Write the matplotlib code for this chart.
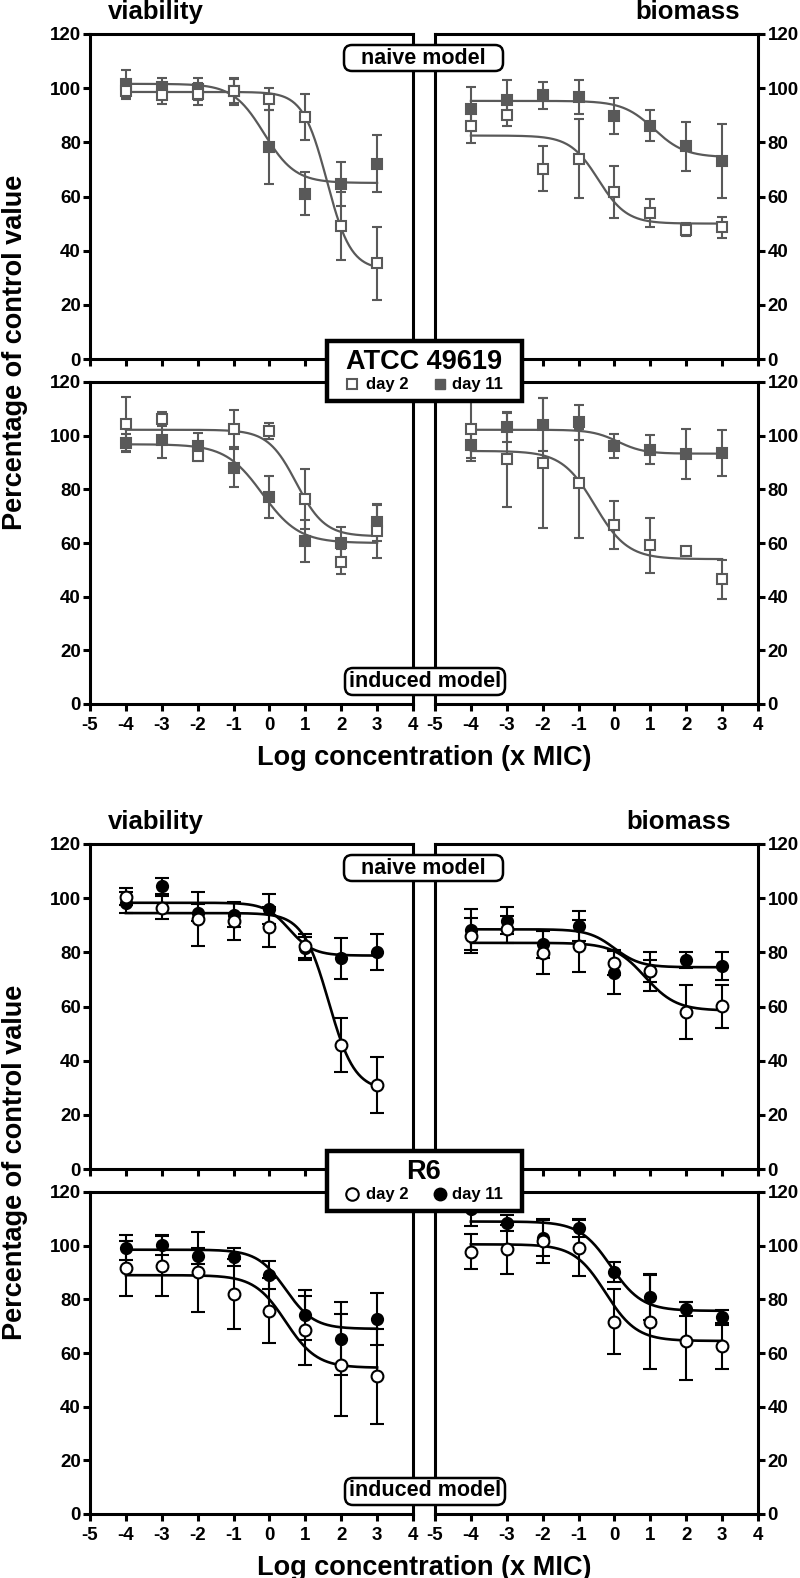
import numpy as np
import matplotlib.pyplot as plt
from matplotlib.patches import FancyBboxPatch, Rectangle

plt.rcParams['font.family'] = ['Liberation Sans', 'DejaVu Sans']
plt.rcParams['font.weight'] = 'bold'
plt.rcParams['axes.unicode_minus'] = False

# log concentration (x MIC)
conc = [-4, -3, -2, -1, 0, 1, 2, 3]

# ---- ATCC 49619 ----
atcc_nv_d2 = [99, 97.6, 97.8, 98.8, 96, 89.2, 49, 35.3]
atcc_nv_d2_sd = [3, 3.5, 4, 5, 4, 8.5, 12.6, 13.5]
atcc_nv_d11 = [101.7, 100.4, 99.7, 99, 78.4, 61, 64.6, 72.1]
atcc_nv_d11_sd = [5, 3.5, 4, 4.5, 13.7, 8, 8, 10.5]

atcc_nb_d2 = [86.2, 90.2, 70.3, 74, 61.7, 53.9, 47.8, 48.6]
atcc_nb_d2_sd = [6.4, 4.3, 8.2, 14.6, 9.7, 5, 2.5, 3.8]
atcc_nb_d11 = [92.3, 95.8, 97.4, 96.7, 89.6, 86.2, 78.5, 73]
atcc_nb_d11_sd = [8, 7.3, 5, 6.3, 6.7, 5.8, 8.9, 13.7]

atcc_iv_d2 = [104.4, 106.3, 92.5, 102.6, 101.6, 76.4, 53.1, 64.3]
atcc_iv_d2_sd = [10, 2.7, 1.8, 6.8, 3, 11.3, 4.7, 10]
atcc_iv_d11 = [97.3, 98.5, 96, 88, 77.1, 60.8, 60, 67.7]
atcc_iv_d11_sd = [3.5, 6.8, 5, 7, 7.9, 7.8, 6, 7]

atcc_ib_d2 = [102.6, 91.3, 89.8, 82.3, 66.8, 59.1, 57.2, 46.5]
atcc_ib_d2_sd = [11, 17.7, 24.3, 20.3, 8.9, 10.1, 1, 7.2]
atcc_ib_d11 = [96.4, 103.2, 104.1, 105, 96, 94.8, 93.2, 93.5]
atcc_ib_d11_sd = [6, 5.4, 10, 6.5, 4.5, 5.5, 9.4, 8.5]

# ---- R6 ----
r6_nv_d2 = [100.6, 96.5, 92.2, 91.6, 89.5, 82.3, 45.9, 30.9]
r6_nv_d2_sd = [3, 4.2, 10, 7, 7.4, 4.5, 10, 10.4]
r6_nv_d11 = [98.4, 104.6, 94.7, 93.8, 95.9, 81.5, 77.8, 80]
r6_nv_d11_sd = [4, 3, 3, 4.5, 5.6, 4.3, 7.5, 6.6]

r6_nb_d2 = [86.2, 88.5, 79.9, 82.3, 76.2, 73.1, 58, 60.1]
r6_nb_d2_sd = [6.6, 5, 8, 9.5, 4.7, 7.2, 10, 8]
r6_nb_d11 = [88.3, 91.6, 83, 89.8, 72.5, 73, 77.2, 75.1]
r6_nb_d11_sd = [7.6, 5, 5, 5.6, 8, 4, 3, 5.2]

r6_iv_d2 = [91.6, 92.5, 90.2, 82, 75.8, 68.4, 55.6, 51.3]
r6_iv_d2_sd = [10.3, 11.2, 14.8, 13, 12.1, 12.7, 19.1, 17.8]
r6_iv_d11 = [99.3, 100.2, 96.2, 95.9, 89.1, 74.2, 65.3, 72.7]
r6_iv_d11_sd = [4.8, 3.8, 3, 3.4, 5.3, 9.2, 13.6, 9.6]

r6_ib_d2 = [97.7, 98.6, 101.7, 99.3, 71.7, 71.7, 64.6, 62.5]
r6_ib_d2_sd = [6.5, 9, 8, 10.5, 12, 17.6, 14.5, 8.6]
r6_ib_d11 = [113.8, 108.5, 103, 106.4, 90.2, 80.7, 76.4, 73.3]
r6_ib_d11_sd = [6.5, 3.1, 7, 3, 3.8, 8.3, 2.7, 2.8]

# sigmoid fits: top, bottom, logEC50, hill slope
atcc_nv_fit = {'d2': [98.6, 33, 1.6, 1.3], 'd11': [101.6, 65, -0.15, 1.0]}
atcc_nb_fit = {'d2': [82.5, 50, -0.45, 1.1], 'd11': [95.3, 74.5, 1.1, 1.0]}
atcc_iv_fit = {'d2': [102.2, 62.5, 0.75, 1.1], 'd11': [96.8, 60, -0.2, 0.85]}
atcc_ib_fit = {'d2': [94.3, 54, -0.55, 0.95], 'd11': [102.2, 93.3, 0.1, 1.2]}
r6_nv_fit = {'d2': [94.5, 29, 1.65, 1.2], 'd11': [98.3, 78.8, 0.55, 1.3]}
r6_nb_fit = {'d2': [83.5, 58.5, 0.85, 1.0], 'd11': [88.5, 74.5, 0.0, 1.2]}
r6_iv_fit = {'d2': [89, 54.5, 0.45, 1.0], 'd11': [98.5, 69, 0.45, 1.1]}
r6_ib_fit = {'d2': [100.5, 64.5, -0.25, 1.0], 'd11': [109, 75.7, -0.1, 1.0]}

W, H = 800, 1578
fig = plt.figure(figsize=(W / 100, H / 100), dpi=100)

GRAY = '#595959'


def logistic(xx, top, bottom, logec, hill):
    return bottom + (top - bottom) / (1 + 10 ** ((xx - logec) * hill))


def panel(x0, x1, ytop, ybot, side, xlabels):
    ax = fig.add_axes([x0 / W, 1 - ybot / H, (x1 - x0) / W, (ybot - ytop) / H])
    ax.set_xlim(-5, 4)
    ax.set_ylim(0, 120)
    ax.set_xticks(range(-5, 5))
    ax.set_yticks(range(0, 121, 20))
    for s in ax.spines.values():
        s.set_linewidth(2.2)
    ax.tick_params(width=2.2, length=5, labelsize=13.5, direction='out')
    ax.tick_params(axis='x', pad=4, labelbottom=xlabels)
    if side == 'right':
        ax.yaxis.tick_right()
        ax.tick_params(axis='y', pad=2)
    else:
        ax.tick_params(axis='y', pad=1.5)
    return ax


def series(ax, y, sd, fit, marker, face, color, ms, cap, lw, z):
    xx = np.linspace(conc[0], conc[-1], 300)
    ax.plot(xx, logistic(xx, *fit), color=color, lw=lw, zorder=2)
    ax.errorbar(conc, y, yerr=sd, fmt='none', ecolor=color, elinewidth=1.5,
                capsize=cap, capthick=1.5, zorder=3)
    ax.plot(conc, y, ls='none', marker=marker, ms=ms, mfc=face, mec=color,
            mew=1.5, zorder=z)


def block(top_y, panels, marker, color, ms_open, ms_fill, cap, lw):
    rows = [(top_y, top_y + 325), (top_y + 348, top_y + 670)]
    cols = [(90, 413, 'left'), (435, 758, 'right')]
    k = 0
    for r, (yt, yb) in enumerate(rows):
        for (x0, x1, side) in cols:
            ax = panel(x0, x1, yt, yb, side, r == 1)
            d2, d2sd, d11, d11sd, fit = panels[k]
            series(ax, d11, d11sd, fit['d11'], marker, color, color, ms_fill, cap, lw, 4)
            series(ax, d2, d2sd, fit['d2'], marker, 'white', color, ms_open, cap, lw, 5)
            k += 1


block(34, [(atcc_nv_d2, atcc_nv_d2_sd, atcc_nv_d11, atcc_nv_d11_sd, atcc_nv_fit),
           (atcc_nb_d2, atcc_nb_d2_sd, atcc_nb_d11, atcc_nb_d11_sd, atcc_nb_fit),
           (atcc_iv_d2, atcc_iv_d2_sd, atcc_iv_d11, atcc_iv_d11_sd, atcc_iv_fit),
           (atcc_ib_d2, atcc_ib_d2_sd, atcc_ib_d11, atcc_ib_d11_sd, atcc_ib_fit)],
      's', GRAY, 6.5, 7, 3.6, 1.6)
block(844, [(r6_nv_d2, r6_nv_d2_sd, r6_nv_d11, r6_nv_d11_sd, r6_nv_fit),
            (r6_nb_d2, r6_nb_d2_sd, r6_nb_d11, r6_nb_d11_sd, r6_nb_fit),
            (r6_iv_d2, r6_iv_d2_sd, r6_iv_d11, r6_iv_d11_sd, r6_iv_fit),
            (r6_ib_d2, r6_ib_d2_sd, r6_ib_d11, r6_ib_d11_sd, r6_ib_fit)],
      'o', 'black', 8.5, 8, 5, 1.9)

# overlay in pixel coordinates for labels and boxes
ov = fig.add_axes([0, 0, 1, 1], zorder=10)
ov.set_xlim(0, W)
ov.set_ylim(H, 0)
ov.axis('off')

for off, name, marker, color, ms in [(0, 'ATCC 49619', 's', GRAY, 7), (810, 'R6', 'o', 'black', 9)]:
    ov.text(108, 19 + off, 'viability', fontsize=18.5, ha='left', va='baseline')
    ov.text(740 - off * 0.011, 19 + off, 'biomass', fontsize=18.5, ha='right', va='baseline')
    ov.text(15, 352 + off, 'Percentage of control value', fontsize=19.5,
            rotation=90, ha='center', va='center')
    ov.text(424, 765 + off, 'Log concentration (x MIC)', fontsize=19.5,
            ha='center', va='baseline')
    ov.add_patch(FancyBboxPatch((344, 45 + off), 159, 26,
                                boxstyle='round,pad=0,rounding_size=8',
                                fc='white', ec='black', lw=1.8))
    ov.text(423, 58 + off, 'naive model', fontsize=15.5, ha='center', va='center')
    ov.add_patch(FancyBboxPatch((345, 668 + off), 160, 27,
                                boxstyle='round,pad=0,rounding_size=8',
                                fc='white', ec='black', lw=1.8))
    ov.text(425, 681 + off, 'induced model', fontsize=15.5, ha='center', va='center')
    ov.add_patch(Rectangle((327, 341 + off), 195, 60, fc='white', ec='black', lw=3.2))
    ov.text(424, 362 + off, name, fontsize=19.5, ha='center', va='center')
    ov.plot([352], [384 + off], ls='none', marker=marker, ms=ms, mfc='white', mec=color, mew=1.5)
    ov.text(366, 384 + off, 'day 2', fontsize=12, ha='left', va='center')
    ov.plot([440], [384 + off], ls='none', marker=marker, ms=ms, mfc=color, mec=color)
    ov.text(452, 384 + off, 'day 11', fontsize=12, ha='left', va='center')

fig.savefig('out.png', dpi=100)
